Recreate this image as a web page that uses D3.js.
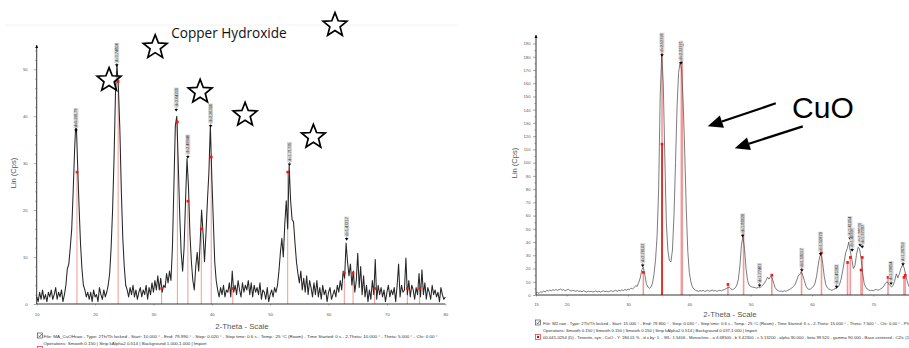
<!DOCTYPE html>
<html>
<head>
<meta charset="utf-8">
<script src="https://cdn.jsdelivr.net/npm/d3@7"></script>
<style>
  body { margin: 0; background: #fff; }
  svg { display: block; }
</style>
</head>
<body>
<div id="chart"></div>
<script>
// ---- left pattern: copper hydroxide (2-theta 10..80, step 0.25) ----
const leftStart = 10, leftStep = 0.25;
const leftCounts = [
  1.5, 0.5, 2.5, 1,   3, 1, 2, 0.5,   2.5, 1.5, 3, 1,   2, 3.5, 1, 2.5,   1.5, 3, 0.5, 2,
  4, 7.5, 8.5, 12,    16, 24, 33, 40,  30, 21, 13, 7.5,  4, 3, 1.5, 2.5,   1, 2.5, 0.5, 3,
  1.5, 2, 0.5, 3.5,   2, 1, 3, 1.5,    2.5, 4, 6.5, 12,  20, 31, 45, 51,   46, 37, 24, 14,
  8, 4, 3, 1.5,       3.5, 2, 4, 1.5,  3, 1, 2.5, 3.5,   1.5, 3, 2, 4,     1, 3.5, 2, 4.5,
  2.5, 5, 3, 6,       3, 5.5, 2.5, 4,  3.5, 6.5, 4.5, 7, 5, 12, 25, 38,    40, 30, 19, 11,
  7, 12, 22, 31,      25, 15, 9, 5,    3, 8, 11, 7,      13, 20, 15, 9,    15, 22, 28, 38,
  27, 18, 9, 5,       3, 1.5, 3.5, 2,  4, 1.5, 3, 2.5,   4.5, 1.5, 7, 2.5, 4, 2, 5, 3,
  1.5, 4.5, 2.5, 4,   3, 5, 2, 4.5,    1.5, 4, 2.5, 3.5, 2, 4.5, 1, 3,     2.5, 1, 3.5, 0.5,
  2, 3, 1.5, 3.5,     2.5, 4, 7, 11,   14, 10, 17, 22,   16, 29.5, 22, 18, 17.5, 13, 9, 6.5,
  4.5, 7, 3, 5.5,     2.5, 6, 2, 5,    3.5, 1.5, 4.5, 2, 5, 1.5, 3.5, 1,   4, 2, 3, 0.5,
  2.5, 3.5, 1, 2,     3, 1.5, 4, 2.5,  5, 3, 7, 5.5,     13, 9, 6, 8.5,    4, 7, 2.5, 5,
  10.8, 3.5, 8, 2,    6, 1.5, 4, 0.5,  3, 1, 5, 2,       9.5, 1, 4, 2,     3.5, 1.5, 3, 0.5,
  2.5, 4, 1.5, 3,     2, 3.5, 0.5, 4,  8.5, 1.5, 4, 2.5, 3, 9.8, 2, 5,     1.5, 4, 3, 1,
  3.5, 2, 6.5, 1.5,   7.3, 2, 4.5, 1,  3.5, 2.5, 1, 4,   2, 3, 1.5, 2.5,   0.5, 3.5, 2, 1,
  1.5
];
const leftRefAngles = [16.9, 23.95, 31.4, 34.1, 35.9, 38.2, 39.9, 43.6, 53.0, 62.7, 64.2, 67.9, 73.5, 75.6];
const leftRefCounts = [28.1, 47.4, 3.3, 38.8, 21.9, 16.0, 31.3, 3.3, 28.1, 6.6, 6.6, 3.3, 3.3, 3.3];
const leftPeakAngles = [16.74, 23.72, 33.9, 35.9, 39.8, 53.3, 63.1];
const leftPeakCounts = [36.6, 50.5, 41.0, 31.0, 37.6, 29.4, 13.5];
const leftStars = [[30.3, 54.7], [22.4, 47.7], [38.0, 45.2], [45.7, 40.3], [57.4, 35.6], [61.1, 59.4]];
const leftXTicks = [10, 20, 30, 40, 50, 60, 70, 80];
const leftYTicks = [0, 10, 20, 30, 40, 50];
const leftFooter = [
  'File: MA_CuOHraw - Type: 2Th/Th locked - Start: 10.000 ° - End: 79.990 ° - Step: 0.020 ° - Step time: 0.6 s - Temp.: 25 °C (Room) - Time Started: 0 s - 2-Theta: 10.000 ° - Theta: 5.000 ° - Chi: 0.00 °',
  'Operations: Smooth 0.150 | Strip kAlpha2 0.514 | Background 1.000,1.000 | Import'
];

// ---- right pattern: CuO (2-theta 15..76, step 0.25) ----
const rightStart = 15, rightStep = 0.25;
const rightCounts = [
  1.5, 2, 1.2, 2.5,   2, 3, 2.2, 3.5,     3, 3.8, 3.2, 4,     3.5, 4.2, 3.6, 3.9,  4.5, 3.6, 4, 3.2,
  3.8, 4.3, 3.5, 3,   3.6, 3.2, 2.8, 3.4, 2.6, 3, 2.4, 3.2,   2.7, 2.2, 3, 2.5,    2.8, 2.3, 2.6, 3.1,
  2.4, 2.9, 2.2, 2.7, 3.2, 2.5, 2.9, 2.4, 2.8, 3.3, 2.6, 3,   3.5, 2.8, 3.6, 3.1,  3.9, 3.3, 4.2, 3.6,
  4.5, 4, 5.2, 4.6,   5.5, 7, 6.5, 9.5,   13, 19, 21, 15,     8.5, 6, 5, 6,        9, 16, 27, 45,
  80, 150, 182, 160,  105, 55, 34, 26,    25, 34, 60, 100,    142, 168, 176, 170,  145, 108, 65, 33,
  17, 10, 6, 4.5,     3.5, 3.2, 2.8, 3.4, 2.9, 3.5, 2.7, 3.1, 3.6, 2.8, 3.2, 3.7,  3, 3.4, 2.7, 3.3,
  3.6, 3.1, 3.8, 4.2, 4.8, 5.5, 6, 4.8,   4, 4.5, 5.5, 7.5,   12, 22, 38, 44,      35, 20, 11, 7.5,
  6.5, 6, 5.8, 5.5,   5.2, 5.8, 5.5, 6.5, 7.5, 9, 11, 13.5,   12, 14, 13, 9,       5.5, 4, 3.2, 2.8,
  3, 2.6, 3.2, 2.8,   3.4, 3.9, 4.6, 5.5, 6.5, 8, 11, 14.5,   15.5, 17.5, 15, 11,  7, 5, 4.2, 4.5,
  5.5, 6.5, 9, 14,    22, 29, 31, 24,     14, 8, 5.5, 4.5,    4, 3.5, 4.2, 4.8,    5, 6, 8, 12,
  18, 25, 32, 35,     40, 33, 27, 20,     22, 30, 36, 35,     28, 17, 9, 6,        4.5, 3.8, 3.3, 3.6,
  3.2, 3.9, 4.2, 3.6, 4, 4.8, 5.5, 7,     9, 10, 8.5, 7,      6, 7.5, 11, 16,      13, 16, 20, 22.5,
  21, 16, 11, 7,      5, 4, 3.5, 3
];
const rightRefAngles = [32.5, 35.55, 35.55, 38.7, 38.85, 46.3, 48.85, 53.45, 58.3, 61.55, 65.8, 66.25, 68.0, 68.2, 72.4, 75.0, 75.2];
const rightRefCounts = [17.1, 189, 114, 189, 189, 8, 48.8, 15, 24.4, 32.2, 24.6, 28.4, 18.9, 28.4, 13.3, 13.3, 15];
const rightPeakAngles = [32.4, 35.55, 38.65, 48.7, 51.45, 58.35, 61.4, 64.0, 66.2, 66.55, 67.85, 68.2, 72.9, 74.85];
const rightPeakCounts = [21, 180, 174, 43.5, 6, 17.5, 29.7, 5, 41.5, 32.7, 36.5, 35.2, 7.5, 22];
const rightArrows = [[[54.1, 144.8], [43.0, 127.4]], [[58.5, 127.4], [47.4, 110.8]]];
const rightXTicks = [15, 20, 30, 40, 50, 60, 70];
const rightYTicks = d3.range(0, 191, 10);
const rightFooter = [
  'File: M2.raw - Type: 2Th/Th locked - Start: 15.000 ° - End: 79.800 ° - Step: 0.030 ° - Step time: 0.6 s - Temp.: 25 °C (Room) - Time Started: 6 s - 2-Theta: 15.000 ° - Theta: 7.500 ° - Chi: 0.00 ° - Ph',
  'Operations: Smooth 0.150 | Smooth 0.150 | Smooth 0.150 | Strip kAlpha2 0.514 | Background 0.037,1.000 | Import',
  '00-041-0254 (D) - Tenorite, syn - CuO - Y: 184.01 % - d x by: 1. - WL: 1.5406 - Monoclinic - a 4.68500 - b 3.42300 - c 5.13200 - alpha 90.000 - beta 99.520 - gamma 90.000 - Base-centered - C2/c (1'
];

const WAVELENGTH = 1.5406;
const W = 909, H = 348;
const FONT = 'Liberation Sans, Arial, sans-serif';

const svg = d3.select('#chart').append('svg')
  .attr('width', W).attr('height', H)
  .style('font-family', FONT);

// faint slide rule at top of left panel
svg.append('line').attr('x1', 5).attr('x2', 457).attr('y1', 25).attr('y2', 25)
  .attr('stroke', '#f2f2f2');

function dSpacing(twoTheta) {
  return WAVELENGTH / (2 * Math.sin(twoTheta / 2 * Math.PI / 180));
}

function drawPanel(p) {
  const g = svg.append('g');
  const x = p.x, y = p.y;
  const x0 = x(p.xTicks[0]);
  const base = y(0);

  // reference sticks (PDF card)
  g.selectAll('.ref').data(p.refAngles).enter().append('line')
    .attr('x1', d => x(d)).attr('x2', d => x(d))
    .attr('y1', base).attr('y2', (d, i) => y(p.refCounts[i]))
    .attr('stroke', (d, i) => p.strongRef.includes(i) ? '#e00000' : '#f29a9a')
    .attr('stroke-width', (d, i) => p.strongRef.includes(i) ? 1.4 : p.refWidth);

  // measured trace
  const pts = p.counts.map((c, i) => [p.start + i * p.step, c]);
  g.append('path').datum(pts)
    .attr('fill', 'none')
    .attr('stroke', p.traceColor)
    .attr('stroke-width', p.traceWidth)
    .attr('stroke-linejoin', 'round')
    .attr('d', d3.line().x(d => x(d[0])).y(d => y(d[1])));

  // red card markers
  g.selectAll('.refm').data(p.refAngles).enter().append('rect')
    .attr('x', d => x(d) - 1.3).attr('y', (d, i) => y(p.refCounts[i]) - 1.3)
    .attr('width', 2.6).attr('height', 2.6).attr('fill', '#ff1010');

  // axes
  g.append('line').attr('x1', x0).attr('x2', x0).attr('y1', base).attr('y2', p.axisTop)
    .attr('stroke', '#000').attr('stroke-width', 0.8);
  g.append('path')
    .attr('d', `M${x0 - 1.5},${p.axisTop + 3}L${x0},${p.axisTop}L${x0 + 1.5},${p.axisTop + 3}Z`)
    .attr('fill', '#000');
  g.append('line').attr('x1', x0).attr('x2', p.xEnd).attr('y1', base).attr('y2', base)
    .attr('stroke', '#000').attr('stroke-width', 0.8);

  const yAxis = g.append('g').attr('transform', `translate(${x0},0)`)
    .call(d3.axisLeft(y).tickValues(p.yTicks).tickSize(3).tickPadding(p.yPad).tickSizeOuter(0));
  const yMinor = g.append('g').attr('transform', `translate(${x0},0)`)
    .call(d3.axisLeft(y).tickValues(p.yMinor).tickSize(1.6).tickFormat('').tickSizeOuter(0));
  const xAxis = g.append('g').attr('transform', `translate(0,${base})`)
    .call(d3.axisBottom(x).tickValues(p.xTicks).tickSize(1.5).tickPadding(p.xPad).tickSizeOuter(0));
  [yAxis, yMinor, xAxis].forEach(a => {
    a.select('.domain').remove();
    a.selectAll('line').attr('stroke', '#555').attr('stroke-width', 0.5);
    a.selectAll('text').attr('font-size', 4.2).attr('fill', '#555').attr('font-family', FONT);
  });

  // peak markers with d-spacing tags
  p.peakAngles.forEach((a, i) => {
    const px = x(a), py = y(p.peakCounts[i]);
    g.append('path').attr('d', `M${px - 1.8},${py - 2.6}L${px + 1.8},${py - 2.6}L${px},${py}Z`)
      .attr('fill', '#000');
    g.append('line').attr('x1', px).attr('x2', px).attr('y1', py - 2.6).attr('y2', py - 4)
      .attr('stroke', '#000').attr('stroke-width', 0.5);
    g.append('rect').attr('x', px - 2.4).attr('y', py - 24).attr('width', 4.8).attr('height', 20)
      .attr('fill', '#d4d4d4').attr('opacity', 0.9);
    g.append('text')
      .attr('transform', `translate(${px + 1.3},${py - 5}) rotate(-90)`)
      .attr('font-size', 3.8).attr('fill', '#333')
      .attr('textLength', 18.5).attr('lengthAdjust', 'spacingAndGlyphs')
      .text('d=' + dSpacing(a).toFixed(5));
  });

  // axis titles
  g.append('text').attr('transform', `translate(${p.yTitleX},${p.yTitleY}) rotate(-90)`)
    .attr('text-anchor', 'middle').attr('font-size', 7.5).attr('fill', '#555')
    .text('Lin (Cps)');
  g.append('text').attr('x', p.xTitleX).attr('y', p.xTitleY)
    .attr('text-anchor', 'middle').attr('font-size', 7.8).attr('fill', '#555')
    .text('2-Theta - Scale');

  // footer lines
  p.footer.forEach((t, i) => {
    g.append('text').attr('x', p.footX).attr('y', p.footY[i])
      .attr('font-size', 4.2).attr('fill', '#333')
      .attr('textLength', p.footLen[i]).attr('lengthAdjust', 'spacingAndGlyphs')
      .text(t);
  });
  // checkbox icon
  const cb = g.append('g').attr('transform', `translate(${p.iconX},${p.footY[0] - 4.5})`);
  cb.append('rect').attr('width', 5).attr('height', 5).attr('fill', '#fff').attr('stroke', '#333').attr('stroke-width', 0.6);
  cb.append('path').attr('d', 'M1,2.6L2.2,3.9L4.2,1').attr('fill', 'none').attr('stroke', '#333').attr('stroke-width', 0.7);
  return g;
}

// ---- left panel ----
const xL = d3.scaleLinear().domain([10, 80]).range([36.7, 445.3]);
const yL = d3.scaleLinear().domain([0, 50]).range([304, 69.3]);
const gL = drawPanel({
  x: xL, y: yL, start: leftStart, step: leftStep, counts: leftCounts,
  refAngles: leftRefAngles, refCounts: leftRefCounts, strongRef: [], refWidth: 1,
  peakAngles: leftPeakAngles, peakCounts: leftPeakCounts,
  xTicks: leftXTicks, yTicks: leftYTicks, yMinor: d3.range(0, 56, 2).filter(v => v % 10),
  axisTop: 45, xEnd: 445.3, yPad: 6, xPad: 8,
  traceColor: '#262626', traceWidth: 1.05,
  yTitleX: 16, yTitleY: 173, xTitleX: 242, xTitleY: 329,
  footer: leftFooter, footX: 43.5, footY: [337.5, 344.5], footLen: [394, 163], iconX: 37.5
});
// red card icon (cut off at bottom)
gL.append('rect').attr('x', 37.5).attr('y', 346.5).attr('width', 5).attr('height', 4)
  .attr('fill', '#fff').attr('stroke', '#e03030').attr('stroke-width', 0.7);

// stars
function starPath(r1, r2) {
  const pts = d3.range(10).map(i => {
    const a = -Math.PI / 2 + i * Math.PI / 5, r = i % 2 ? r2 : r1;
    return [r * Math.cos(a), r * Math.sin(a)];
  });
  return 'M' + pts.map(p => p.join(',')).join('L') + 'Z';
}
gL.selectAll('.star').data(leftStars).enter().append('path')
  .attr('transform', d => `translate(${xL(d[0])},${yL(d[1])})`)
  .attr('d', starPath(12.5, 5.4))
  .attr('fill', '#fff').attr('fill-opacity', 0.6).attr('stroke', '#000').attr('stroke-width', 1.7)
  .attr('stroke-linejoin', 'miter');
gL.append('text').attr('x', xL(33.05)).attr('y', yL(56.6))
  .attr('font-family', 'Open Sans, sans-serif').attr('font-size', 13.6).attr('fill', '#111')
  .text('Copper Hydroxide');

// ---- right panel ----
const xR = d3.scaleLinear().domain([15, 70]).range([536, 873.3]);
const yR = d3.scaleLinear().domain([0, 190]).range([295, 43.5]);
const gR = drawPanel({
  x: xR, y: yR, start: rightStart, step: rightStep, counts: rightCounts,
  refAngles: rightRefAngles, refCounts: rightRefCounts, strongRef: [2], refWidth: 1.6,
  peakAngles: rightPeakAngles, peakCounts: rightPeakCounts,
  xTicks: rightXTicks, yTicks: rightYTicks, yMinor: d3.range(5, 191, 10),
  axisTop: 35, xEnd: W, yPad: 2.5, xPad: 7,
  traceColor: '#444', traceWidth: 0.7,
  yTitleX: 517, yTitleY: 163, xTitleX: 730, xTitleY: 317,
  footer: rightFooter, footX: 543, footY: [324.5, 332, 339], footLen: [366, 214, 366], iconX: 535.5
});
// red card icon
gR.append('rect').attr('x', 535.5).attr('y', 334.5).attr('width', 5).attr('height', 5)
  .attr('fill', '#fff').attr('stroke', '#e03030').attr('stroke-width', 0.7);
gR.append('rect').attr('x', 537).attr('y', 336).attr('width', 2).attr('height', 2).attr('fill', '#e00000');

// arrows and label
rightArrows.forEach(([t, h]) => {
  const x1 = xR(t[0]), y1 = yR(t[1]), x2 = xR(h[0]), y2 = yR(h[1]);
  const ang = Math.atan2(y2 - y1, x2 - x1), L = 15, hw = 6.5;
  const bx = x2 - L * Math.cos(ang), by = y2 - L * Math.sin(ang);
  gR.append('line').attr('x1', x1).attr('y1', y1).attr('x2', bx).attr('y2', by)
    .attr('stroke', '#000').attr('stroke-width', 2.2);
  gR.append('path')
    .attr('d', `M${x2},${y2}L${bx - hw * Math.sin(ang)},${by + hw * Math.cos(ang)}L${bx + hw * Math.sin(ang)},${by - hw * Math.cos(ang)}Z`)
    .attr('fill', '#000');
});
gR.append('text').attr('x', xR(56.75)).attr('y', yR(133.5))
  .attr('font-family', 'Liberation Sans, Arial, sans-serif').attr('font-size', 30).attr('fill', '#000')
  .text('CuO');
</script>
</body>
</html>
